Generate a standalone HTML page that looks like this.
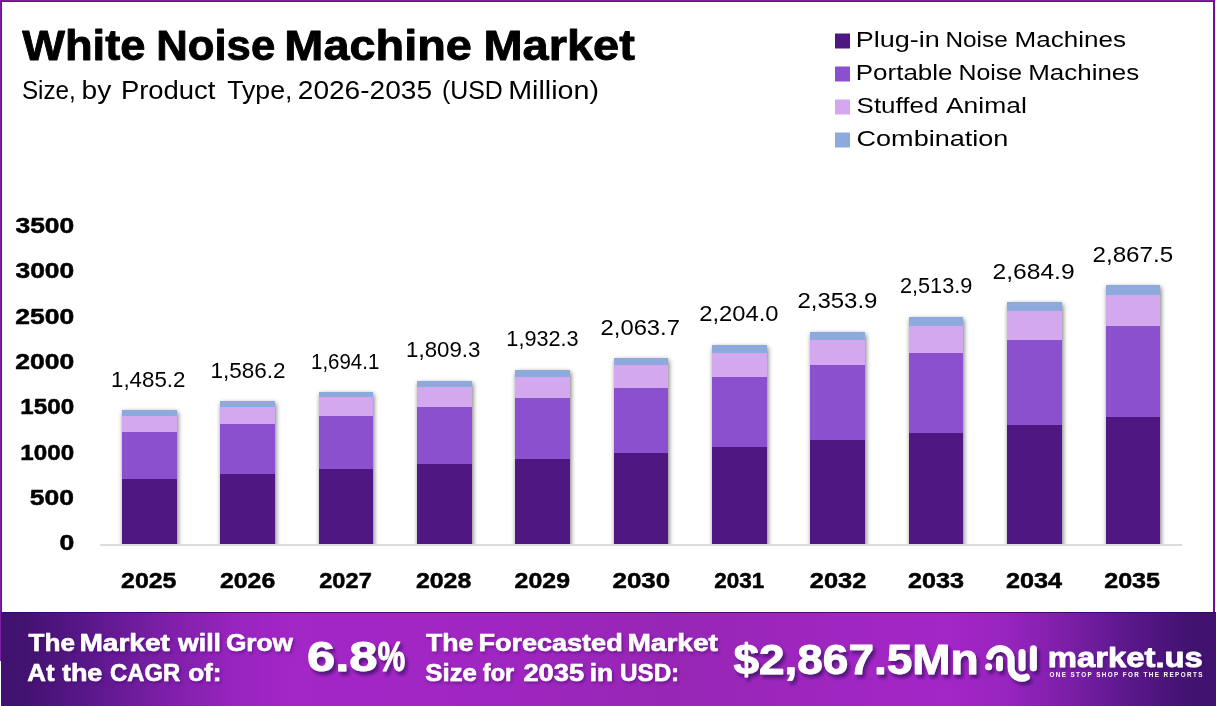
<!DOCTYPE html>
<html lang="en"><head><meta charset="utf-8"><title>White Noise Machine Market</title>
<style>
html,body{margin:0;padding:0;background:#fff;}
body{width:1216px;height:706px;overflow:hidden;}
svg{display:block;font-family:"Liberation Sans",sans-serif;}
</style></head><body>
<svg width="1216" height="706" viewBox="0 0 1216 706">
<defs>
<linearGradient id="bg" x1="0" y1="0" x2="1" y2="0">
<stop offset="0" stop-color="#41126f"/>
<stop offset="0.016" stop-color="#41126f"/>
<stop offset="0.07" stop-color="#59178a"/>
<stop offset="0.13" stop-color="#7a1ea6"/>
<stop offset="0.19" stop-color="#9724be"/>
<stop offset="0.24" stop-color="#a326c6"/>
<stop offset="0.40" stop-color="#a026c2"/>
<stop offset="0.55" stop-color="#9726b4"/>
<stop offset="0.70" stop-color="#a026c2"/>
<stop offset="0.78" stop-color="#a326c6"/>
<stop offset="0.83" stop-color="#9724be"/>
<stop offset="0.88" stop-color="#7a1ea6"/>
<stop offset="0.93" stop-color="#59178a"/>
<stop offset="0.98" stop-color="#41126f"/>
<stop offset="1" stop-color="#41126f"/>
</linearGradient>
<filter id="bsh" x="-20%" y="-5%" width="140%" height="112%"><feGaussianBlur in="SourceAlpha" stdDeviation="2.6"/><feOffset dx="1.2" dy="1.5" result="b"/><feFlood flood-color="#000" flood-opacity="0.55"/><feComposite in2="b" operator="in"/></filter>
<filter id="tsh" x="-5%" y="-30%" width="110%" height="170%"><feDropShadow dx="1.5" dy="2" stdDeviation="1.5" flood-color="#3a0a66" flood-opacity="0.45"/></filter>
<filter id="tsb" x="-10%" y="-30%" width="120%" height="170%"><feDropShadow dx="2.5" dy="3.5" stdDeviation="1.6" flood-color="#3a0a66" flood-opacity="0.75"/></filter>
<clipPath id="plotclip"><rect x="90" y="200" width="1110" height="344"/></clipPath>
</defs>
<rect x="0" y="0" width="1216" height="706" fill="#fff"/>

<rect x="0" y="0" width="1215" height="1" fill="#7b1fa2"/>
<rect x="1" y="1" width="1214" height="1" fill="#6c0e9a"/>
<rect x="0" y="0" width="1" height="661" fill="#7b1fa2"/>
<rect x="1" y="1" width="1" height="612" fill="#6c0e9a"/>
<rect x="1213" y="0" width="2" height="613" fill="#6f0f9c"/>
<rect x="1" y="612" width="1215" height="94" fill="url(#bg)"/>
<rect x="1" y="612" width="1215" height="1" fill="#350068" opacity="0.8"/>
<rect x="835" y="33.5" width="15" height="15" fill="#4E1782"/>
<rect x="835" y="66.5" width="15" height="15" fill="#8B50CE"/>
<rect x="835" y="99.5" width="15" height="15" fill="#D3A8EE"/>
<rect x="835" y="132.5" width="15" height="15" fill="#8EA9DB"/>
<rect x="100" y="544" width="1082" height="2" fill="#dcdcdc"/>
<g clip-path="url(#plotclip)"><g filter="url(#bsh)">
<rect x="122" y="410" width="55" height="140" fill="#000"/>
<rect x="220" y="401" width="55" height="149" fill="#000"/>
<rect x="319" y="392" width="54" height="158" fill="#000"/>
<rect x="417" y="381" width="55" height="169" fill="#000"/>
<rect x="515" y="370" width="55" height="180" fill="#000"/>
<rect x="614" y="358" width="54" height="192" fill="#000"/>
<rect x="712" y="345" width="55" height="205" fill="#000"/>
<rect x="810" y="332" width="55" height="218" fill="#000"/>
<rect x="909" y="317" width="54" height="233" fill="#000"/>
<rect x="1007" y="302" width="55" height="248" fill="#000"/>
<rect x="1106" y="285" width="54" height="265" fill="#000"/>
</g></g>
<rect x="122" y="479" width="55" height="65" fill="#4E1782"/>
<rect x="122" y="432" width="55" height="47" fill="#8B50CE"/>
<rect x="122" y="416" width="55" height="16" fill="#D3A8EE"/>
<rect x="122" y="410" width="55" height="6" fill="#8EA9DB"/>
<rect x="220" y="474" width="55" height="70" fill="#4E1782"/>
<rect x="220" y="424" width="55" height="50" fill="#8B50CE"/>
<rect x="220" y="407" width="55" height="17" fill="#D3A8EE"/>
<rect x="220" y="401" width="55" height="6" fill="#8EA9DB"/>
<rect x="319" y="469" width="54" height="75" fill="#4E1782"/>
<rect x="319" y="416" width="54" height="53" fill="#8B50CE"/>
<rect x="319" y="397" width="54" height="19" fill="#D3A8EE"/>
<rect x="319" y="392" width="54" height="5" fill="#8EA9DB"/>
<rect x="417" y="464" width="55" height="80" fill="#4E1782"/>
<rect x="417" y="407" width="55" height="57" fill="#8B50CE"/>
<rect x="417" y="387" width="55" height="20" fill="#D3A8EE"/>
<rect x="417" y="381" width="55" height="6" fill="#8EA9DB"/>
<rect x="515" y="459" width="55" height="85" fill="#4E1782"/>
<rect x="515" y="398" width="55" height="61" fill="#8B50CE"/>
<rect x="515" y="377" width="55" height="21" fill="#D3A8EE"/>
<rect x="515" y="370" width="55" height="7" fill="#8EA9DB"/>
<rect x="614" y="453" width="54" height="91" fill="#4E1782"/>
<rect x="614" y="388" width="54" height="65" fill="#8B50CE"/>
<rect x="614" y="365" width="54" height="23" fill="#D3A8EE"/>
<rect x="614" y="358" width="54" height="7" fill="#8EA9DB"/>
<rect x="712" y="447" width="55" height="97" fill="#4E1782"/>
<rect x="712" y="377" width="55" height="70" fill="#8B50CE"/>
<rect x="712" y="353" width="55" height="24" fill="#D3A8EE"/>
<rect x="712" y="345" width="55" height="8" fill="#8EA9DB"/>
<rect x="810" y="440" width="55" height="104" fill="#4E1782"/>
<rect x="810" y="365" width="55" height="75" fill="#8B50CE"/>
<rect x="810" y="340" width="55" height="25" fill="#D3A8EE"/>
<rect x="810" y="332" width="55" height="8" fill="#8EA9DB"/>
<rect x="909" y="433" width="54" height="111" fill="#4E1782"/>
<rect x="909" y="353" width="54" height="80" fill="#8B50CE"/>
<rect x="909" y="326" width="54" height="27" fill="#D3A8EE"/>
<rect x="909" y="317" width="54" height="9" fill="#8EA9DB"/>
<rect x="1007" y="425" width="55" height="119" fill="#4E1782"/>
<rect x="1007" y="340" width="55" height="85" fill="#8B50CE"/>
<rect x="1007" y="311" width="55" height="29" fill="#D3A8EE"/>
<rect x="1007" y="302" width="55" height="9" fill="#8EA9DB"/>
<rect x="1106" y="417" width="54" height="127" fill="#4E1782"/>
<rect x="1106" y="326" width="54" height="91" fill="#8B50CE"/>
<rect x="1106" y="295" width="54" height="31" fill="#D3A8EE"/>
<rect x="1106" y="285" width="54" height="10" fill="#8EA9DB"/>
<g>
<text y="60.3" font-size="43" font-weight="700" fill="#000" stroke="#000" stroke-width="0.9" stroke-linejoin="round"><tspan x="22.15" textLength="123.34" lengthAdjust="spacingAndGlyphs">White</tspan> <tspan x="156.29" textLength="118.91" lengthAdjust="spacingAndGlyphs">Noise</tspan> <tspan x="284.37" textLength="187.54" lengthAdjust="spacingAndGlyphs">Machine</tspan> <tspan x="483.46" textLength="151.33" lengthAdjust="spacingAndGlyphs">Market</tspan></text>
<text y="98.8" font-size="25.2" font-weight="400" fill="#000"><tspan x="21.89" textLength="53.87" lengthAdjust="spacingAndGlyphs">Size,</tspan> <tspan x="81.63" textLength="29.75" lengthAdjust="spacingAndGlyphs">by</tspan> <tspan x="120.90" textLength="94.57" lengthAdjust="spacingAndGlyphs">Product</tspan> <tspan x="227.17" textLength="65.23" lengthAdjust="spacingAndGlyphs">Type,</tspan> <tspan x="297.80" textLength="134.19" lengthAdjust="spacingAndGlyphs">2026-2035</tspan> <tspan x="441.90" textLength="61.00" lengthAdjust="spacingAndGlyphs">(USD</tspan> <tspan x="508.21" textLength="90.83" lengthAdjust="spacingAndGlyphs">Million)</tspan></text>
<text y="46.8" font-size="21.7" font-weight="400" fill="#000"><tspan x="855.74" textLength="84.16" lengthAdjust="spacingAndGlyphs">Plug-in</tspan> <tspan x="945.45" textLength="62.29" lengthAdjust="spacingAndGlyphs">Noise</tspan> <tspan x="1014.52" textLength="111.52" lengthAdjust="spacingAndGlyphs">Machines</tspan></text>
<text y="79.8" font-size="21.7" font-weight="400" fill="#000"><tspan x="855.82" textLength="96.63" lengthAdjust="spacingAndGlyphs">Portable</tspan> <tspan x="958.51" textLength="63.65" lengthAdjust="spacingAndGlyphs">Noise</tspan> <tspan x="1028.22" textLength="111.01" lengthAdjust="spacingAndGlyphs">Machines</tspan></text>
<text y="112.8" font-size="21.7" font-weight="400" fill="#000"><tspan x="856.60" textLength="81.78" lengthAdjust="spacingAndGlyphs">Stuffed</tspan> <tspan x="946.00" textLength="80.76" lengthAdjust="spacingAndGlyphs">Animal</tspan></text>
<text x="856.55" y="145.8" font-size="21.7" font-weight="400" fill="#000" textLength="151.79" lengthAdjust="spacingAndGlyphs">Combination</text>
<text x="59.49" y="550.4" font-size="21.7" font-weight="700" fill="#000" stroke="#000" stroke-width="0.5" stroke-linejoin="round" textLength="14.79" lengthAdjust="spacingAndGlyphs">0</text>
<text x="29.86" y="505.1" font-size="21.7" font-weight="700" fill="#000" stroke="#000" stroke-width="0.5" stroke-linejoin="round" textLength="44.22" lengthAdjust="spacingAndGlyphs">500</text>
<text x="20.30" y="459.7" font-size="21.7" font-weight="700" fill="#000" stroke="#000" stroke-width="0.5" stroke-linejoin="round" textLength="53.83" lengthAdjust="spacingAndGlyphs">1000</text>
<text x="20.30" y="414.4" font-size="21.7" font-weight="700" fill="#000" stroke="#000" stroke-width="0.5" stroke-linejoin="round" textLength="53.83" lengthAdjust="spacingAndGlyphs">1500</text>
<text x="15.25" y="369.0" font-size="21.7" font-weight="700" fill="#000" stroke="#000" stroke-width="0.5" stroke-linejoin="round" textLength="58.98" lengthAdjust="spacingAndGlyphs">2000</text>
<text x="15.25" y="323.7" font-size="21.7" font-weight="700" fill="#000" stroke="#000" stroke-width="0.5" stroke-linejoin="round" textLength="58.98" lengthAdjust="spacingAndGlyphs">2500</text>
<text x="15.52" y="278.4" font-size="21.7" font-weight="700" fill="#000" stroke="#000" stroke-width="0.5" stroke-linejoin="round" textLength="58.71" lengthAdjust="spacingAndGlyphs">3000</text>
<text x="15.52" y="233.0" font-size="21.7" font-weight="700" fill="#000" stroke="#000" stroke-width="0.5" stroke-linejoin="round" textLength="58.71" lengthAdjust="spacingAndGlyphs">3500</text>
<text x="111.02" y="386.9" font-size="21.9" font-weight="400" fill="#000" textLength="74.42" lengthAdjust="spacingAndGlyphs">1,485.2</text>
<text x="210.50" y="377.5" font-size="21.9" font-weight="400" fill="#000" textLength="75.15" lengthAdjust="spacingAndGlyphs">1,586.2</text>
<text x="311.07" y="368.8" font-size="21.9" font-weight="400" fill="#000" textLength="68.19" lengthAdjust="spacingAndGlyphs">1,694.1</text>
<text x="406.12" y="357.4" font-size="21.9" font-weight="400" fill="#000" textLength="74.32" lengthAdjust="spacingAndGlyphs">1,809.3</text>
<text x="506.37" y="346.4" font-size="21.9" font-weight="400" fill="#000" textLength="72.24" lengthAdjust="spacingAndGlyphs">1,932.3</text>
<text x="600.61" y="334.5" font-size="21.9" font-weight="400" fill="#000" textLength="79.29" lengthAdjust="spacingAndGlyphs">2,063.7</text>
<text x="699.21" y="321.4" font-size="21.9" font-weight="400" fill="#000" textLength="79.26" lengthAdjust="spacingAndGlyphs">2,204.0</text>
<text x="797.40" y="308.4" font-size="21.9" font-weight="400" fill="#000" textLength="80.02" lengthAdjust="spacingAndGlyphs">2,353.9</text>
<text x="899.92" y="293.4" font-size="21.9" font-weight="400" fill="#000" textLength="72.40" lengthAdjust="spacingAndGlyphs">2,513.9</text>
<text x="992.57" y="278.8" font-size="21.9" font-weight="400" fill="#000" textLength="82.08" lengthAdjust="spacingAndGlyphs">2,684.9</text>
<text x="1092.49" y="262" font-size="21.9" font-weight="400" fill="#000" textLength="80.74" lengthAdjust="spacingAndGlyphs">2,867.5</text>
<text x="121.10" y="587.5" font-size="21.7" font-weight="700" fill="#000" stroke="#000" stroke-width="0.5" stroke-linejoin="round" textLength="55.36" lengthAdjust="spacingAndGlyphs">2025</text>
<text x="220.01" y="587.5" font-size="21.7" font-weight="700" fill="#000" stroke="#000" stroke-width="0.5" stroke-linejoin="round" textLength="55.21" lengthAdjust="spacingAndGlyphs">2026</text>
<text x="319.24" y="587.5" font-size="21.7" font-weight="700" fill="#000" stroke="#000" stroke-width="0.5" stroke-linejoin="round" textLength="52.56" lengthAdjust="spacingAndGlyphs">2027</text>
<text x="415.90" y="587.5" font-size="21.7" font-weight="700" fill="#000" stroke="#000" stroke-width="0.5" stroke-linejoin="round" textLength="55.41" lengthAdjust="spacingAndGlyphs">2028</text>
<text x="514.60" y="587.5" font-size="21.7" font-weight="700" fill="#000" stroke="#000" stroke-width="0.5" stroke-linejoin="round" textLength="55.41" lengthAdjust="spacingAndGlyphs">2029</text>
<text x="612.47" y="587.5" font-size="21.7" font-weight="700" fill="#000" stroke="#000" stroke-width="0.5" stroke-linejoin="round" textLength="57.74" lengthAdjust="spacingAndGlyphs">2030</text>
<text x="714.18" y="587.5" font-size="21.7" font-weight="700" fill="#000" stroke="#000" stroke-width="0.5" stroke-linejoin="round" textLength="50.03" lengthAdjust="spacingAndGlyphs">2031</text>
<text x="809.89" y="587.5" font-size="21.7" font-weight="700" fill="#000" stroke="#000" stroke-width="0.5" stroke-linejoin="round" textLength="56.50" lengthAdjust="spacingAndGlyphs">2032</text>
<text x="908.00" y="587.5" font-size="21.7" font-weight="700" fill="#000" stroke="#000" stroke-width="0.5" stroke-linejoin="round" textLength="55.93" lengthAdjust="spacingAndGlyphs">2033</text>
<text x="1005.99" y="587.5" font-size="21.7" font-weight="700" fill="#000" stroke="#000" stroke-width="0.5" stroke-linejoin="round" textLength="56.07" lengthAdjust="spacingAndGlyphs">2034</text>
<text x="1104.20" y="587.5" font-size="21.7" font-weight="700" fill="#000" stroke="#000" stroke-width="0.5" stroke-linejoin="round" textLength="55.87" lengthAdjust="spacingAndGlyphs">2035</text>
</g>
<g filter="url(#tsh)">
<text y="650.6" font-size="24.6" font-weight="700" fill="#fff" stroke="#fff" stroke-width="0.6" stroke-linejoin="round"><tspan x="28.64" textLength="46.25" lengthAdjust="spacingAndGlyphs">The</tspan> <tspan x="79.43" textLength="90.55" lengthAdjust="spacingAndGlyphs">Market</tspan> <tspan x="178.10" textLength="42.80" lengthAdjust="spacingAndGlyphs">will</tspan> <tspan x="225.95" textLength="66.94" lengthAdjust="spacingAndGlyphs">Grow</tspan></text>
<text y="680.9" font-size="24.6" font-weight="700" fill="#fff" stroke="#fff" stroke-width="0.6" stroke-linejoin="round"><tspan x="27.32" textLength="27.27" lengthAdjust="spacingAndGlyphs">At</tspan> <tspan x="61.93" textLength="40.38" lengthAdjust="spacingAndGlyphs">the</tspan> <tspan x="110.05" textLength="70.03" lengthAdjust="spacingAndGlyphs">CAGR</tspan> <tspan x="188.15" textLength="33.38" lengthAdjust="spacingAndGlyphs">of:</tspan></text>
<text y="650.6" font-size="24.6" font-weight="700" fill="#fff" stroke="#fff" stroke-width="0.6" stroke-linejoin="round"><tspan x="426.03" textLength="47.28" lengthAdjust="spacingAndGlyphs">The</tspan> <tspan x="478.41" textLength="144.26" lengthAdjust="spacingAndGlyphs">Forecasted</tspan> <tspan x="627.43" textLength="90.55" lengthAdjust="spacingAndGlyphs">Market</tspan></text>
<text y="680.9" font-size="24.6" font-weight="700" fill="#fff" stroke="#fff" stroke-width="0.6" stroke-linejoin="round"><tspan x="425.33" textLength="51.57" lengthAdjust="spacingAndGlyphs">Size</tspan> <tspan x="482.83" textLength="31.28" lengthAdjust="spacingAndGlyphs">for</tspan> <tspan x="523.48" textLength="60.59" lengthAdjust="spacingAndGlyphs">2035</tspan> <tspan x="589.66" textLength="23.39" lengthAdjust="spacingAndGlyphs">in</tspan> <tspan x="620.05" textLength="59.13" lengthAdjust="spacingAndGlyphs">USD:</tspan></text>
<text x="1047.70" y="666.6" font-size="27" font-weight="700" fill="#fff" stroke="#fff" stroke-width="0.8" stroke-linejoin="round" textLength="155.17" lengthAdjust="spacingAndGlyphs">market.us</text>
</g>
<text x="1049.4" y="676.6" font-size="6.3" font-weight="700" fill="#fff" textLength="153" lengthAdjust="spacing">ONE STOP SHOP FOR THE REPORTS</text>
<g filter="url(#tsb)">
<text y="670.6" font-size="42.3" font-weight="700" fill="#fff" stroke="#fff" stroke-width="0.9" stroke-linejoin="round"><tspan x="307.02" textLength="70.46" lengthAdjust="spacingAndGlyphs">6.8</tspan><tspan x="377.82" textLength="27.43" lengthAdjust="spacingAndGlyphs">%</tspan></text>
<text x="733.43" y="673.9" font-size="41.6" font-weight="700" fill="#fff" stroke="#fff" stroke-width="0.9" stroke-linejoin="round" textLength="245.18" lengthAdjust="spacingAndGlyphs">$2,867.5Mn</text>
<g fill="none" stroke="#fff" stroke-width="7" stroke-linecap="round">
<path d="M989.7 656.5 A10.9 10.9 0 0 1 1011.1 659.5 V667.5 A10.7 10.7 0 0 0 1026.4 677.2"/>
<path d="M999.5 659.2 V667.7"/>
<path d="M1022 652.5 V667.7"/>
<path d="M1033.4 648.7 V667.7"/>
</g>
<circle cx="988.6" cy="666.7" r="3.5" fill="#fff"/>
</g>
</svg></body></html>
